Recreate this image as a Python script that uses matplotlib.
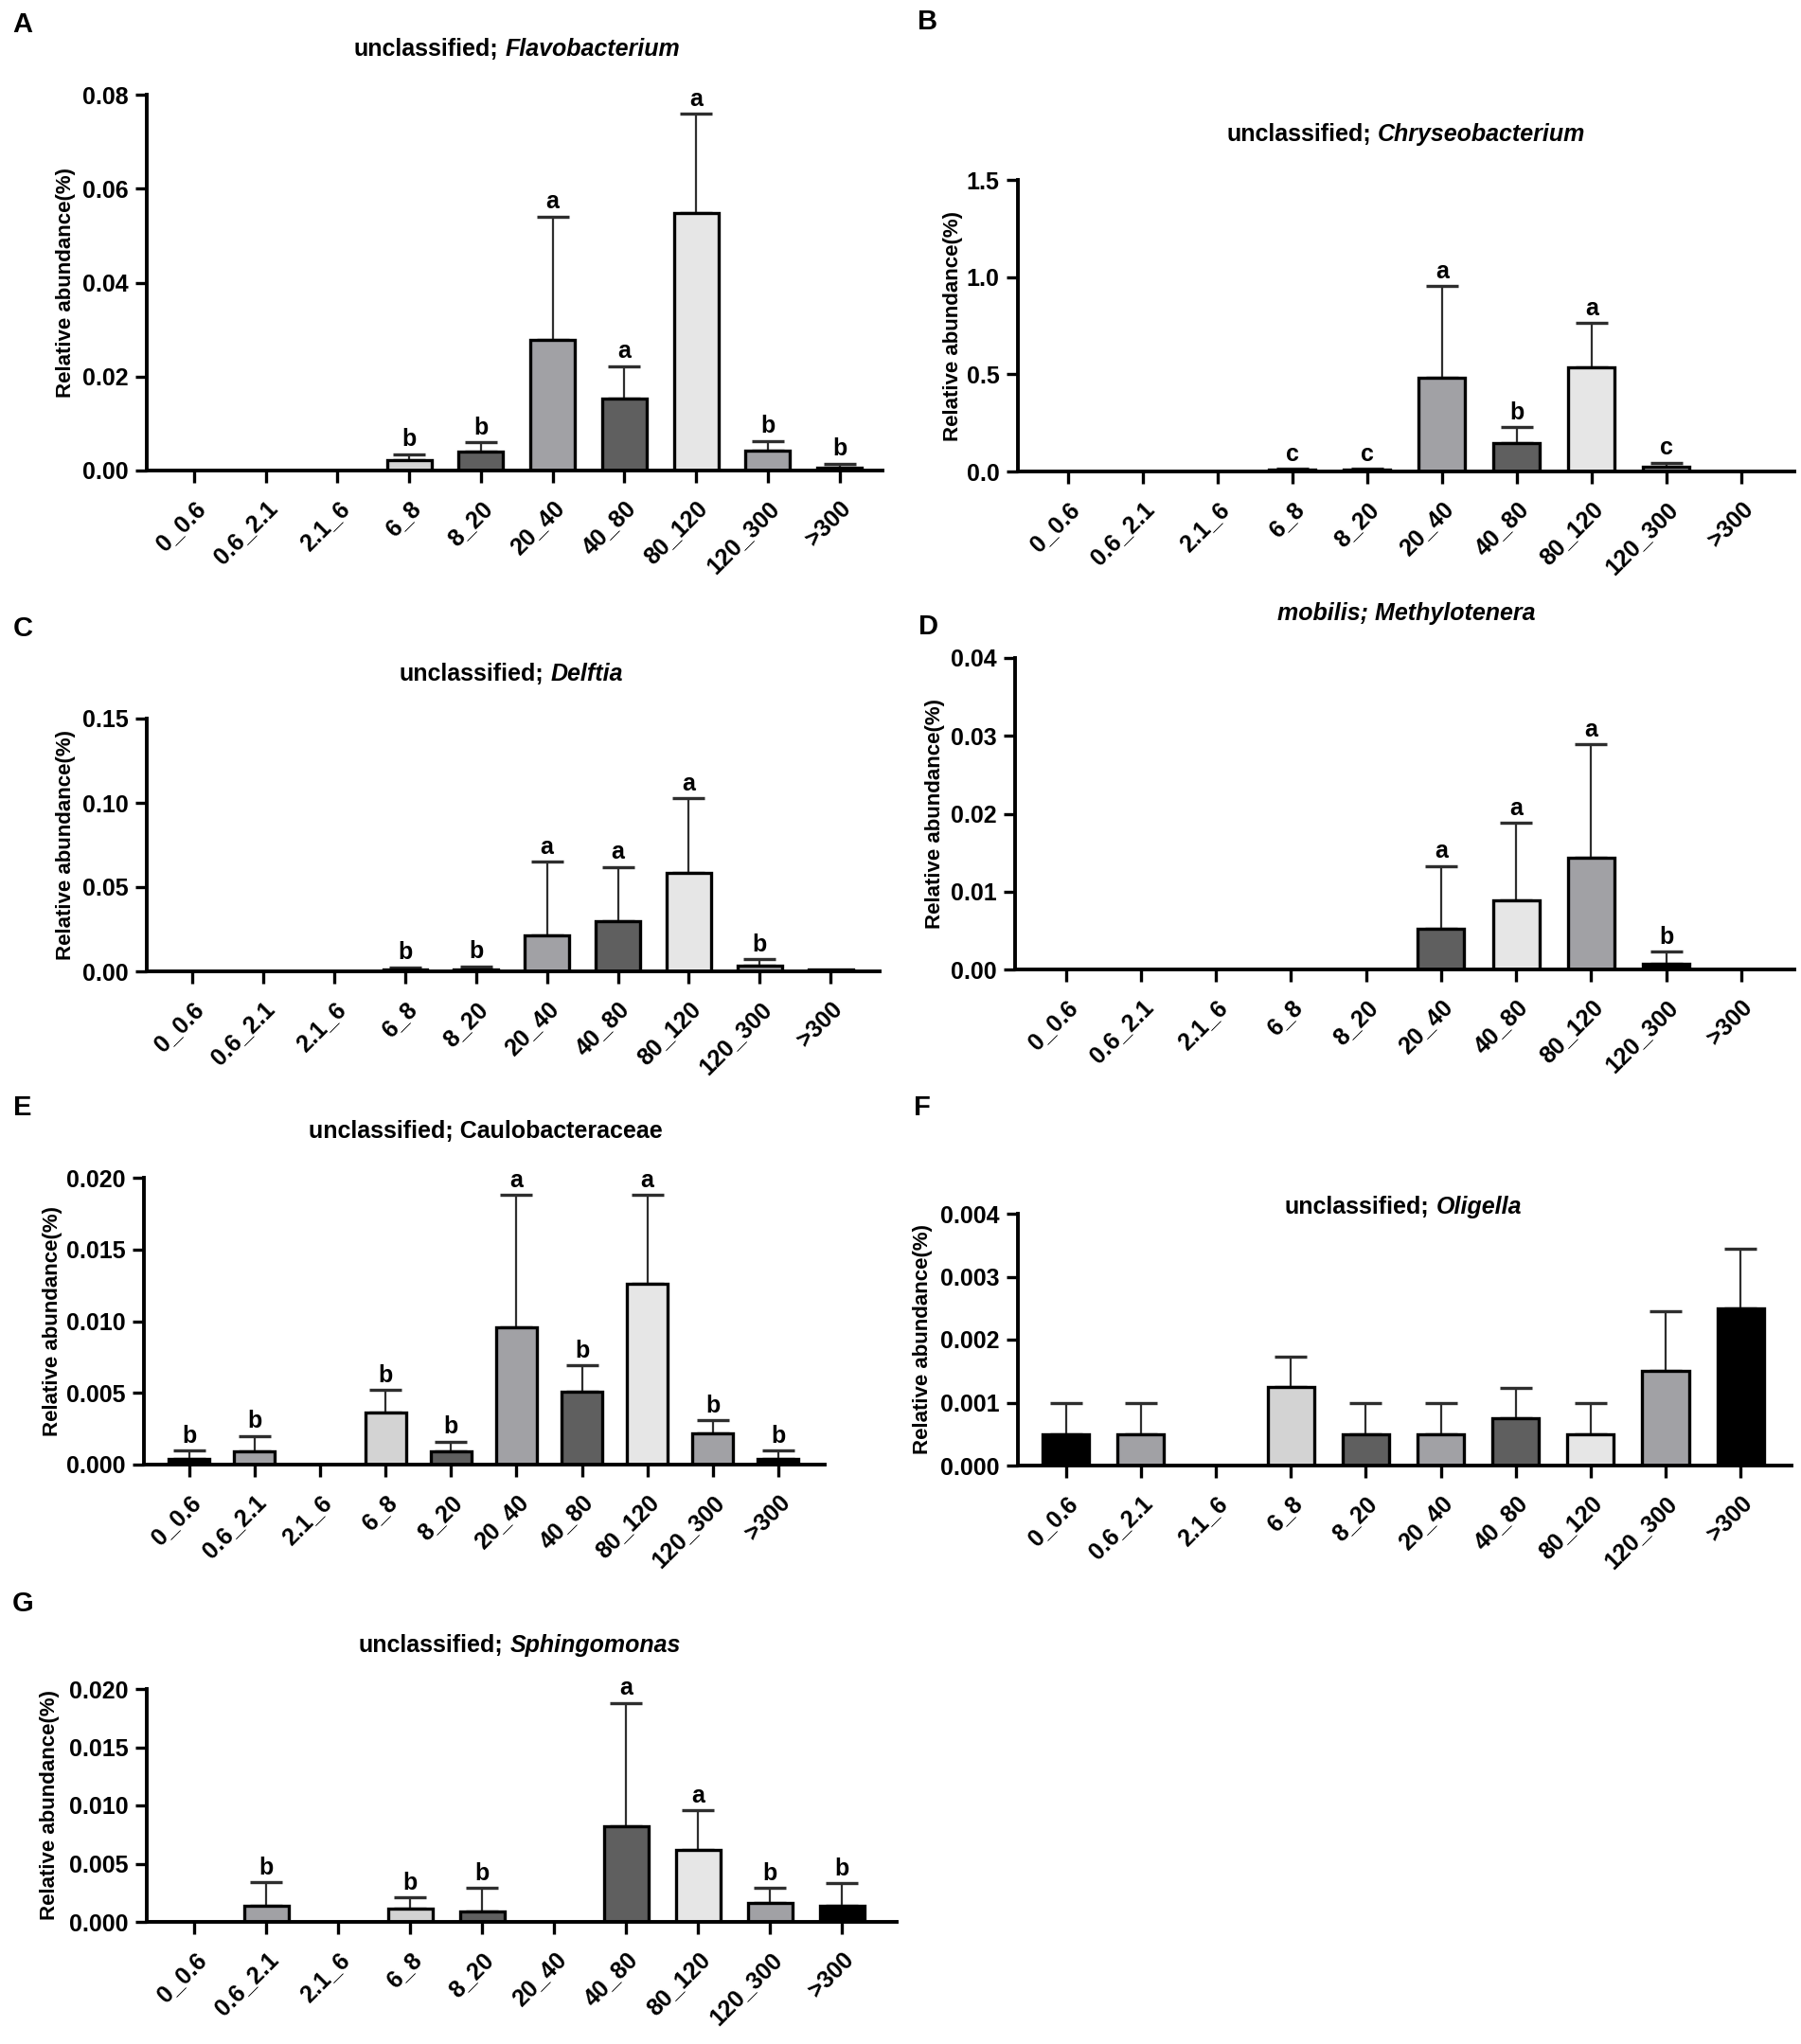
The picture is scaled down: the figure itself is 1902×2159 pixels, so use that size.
import numpy as np
import matplotlib
matplotlib.use("Agg")
import matplotlib.pyplot as plt
from matplotlib.ticker import FormatStrFormatter

plt.rcParams['font.family'] = ['Liberation Sans', 'DejaVu Sans']
plt.rcParams['font.weight'] = 'bold'

# size classes on the x axis
categories = ['0_0.6', '0.6_2.1', '2.1_6', '6_8', '8_20',
              '20_40', '40_80', '80_120', '120_300', '>300']

# mean relative abundance (%) and SD
flavo_mean = [0, 0, 0, 0.0022, 0.0040, 0.0278, 0.0153, 0.0549, 0.0043, 0.0006]
flavo_sd = [0, 0, 0, 0.0013, 0.0020, 0.0263, 0.0069, 0.0211, 0.0020, 0.0009]
flavo_sig = ['', '', '', 'b', 'b', 'a', 'a', 'a', 'b', 'b']

chryseo_mean = [0, 0, 0, 0.008, 0.008, 0.481, 0.146, 0.536, 0.025, 0]
chryseo_sd = [0, 0, 0, 0.007, 0.007, 0.474, 0.082, 0.228, 0.020, 0]
chryseo_sig = ['', '', '', 'c', 'c', 'a', 'b', 'a', 'c', '']

delftia_mean = [0, 0, 0, 0.001, 0.001, 0.0215, 0.0299, 0.0585, 0.0035, 0.001]
delftia_sd = [0, 0, 0, 0.0015, 0.002, 0.0436, 0.0321, 0.0442, 0.0037, 0]
delftia_sig = ['', '', '', 'b', 'b', 'a', 'a', 'a', 'b', '']

methylo_mean = [0, 0, 0, 0, 0, 0.0052, 0.0089, 0.0144, 0.0007, 0]
methylo_sd = [0, 0, 0, 0, 0, 0.0081, 0.0099, 0.0145, 0.0016, 0]
methylo_sig = ['', '', '', '', '', 'a', 'a', 'a', 'b', '']

caulo_mean = [0.0004, 0.00095, 0, 0.00365, 0.00095, 0.0096, 0.0051, 0.0126, 0.0022, 0.0004]
caulo_sd = [0.0006, 0.00105, 0, 0.00155, 0.00065, 0.0092, 0.0018, 0.0062, 0.0009, 0.0006]
caulo_sig = ['b', 'b', '', 'b', 'b', 'a', 'b', 'a', 'b', 'b']

oligella_mean = [0.0005, 0.0005, 0, 0.00125, 0.0005, 0.0005, 0.00075, 0.0005, 0.0015, 0.0025]
oligella_sd = [0.0005, 0.0005, 0, 0.00048, 0.0005, 0.0005, 0.00048, 0.0005, 0.00095, 0.00095]
oligella_sig = [''] * 10

sphingo_mean = [0, 0.0014, 0, 0.0011, 0.0009, 0, 0.0082, 0.0062, 0.0016, 0.0014]
sphingo_sd = [0, 0.0020, 0, 0.0010, 0.0020, 0, 0.0106, 0.0034, 0.0013, 0.0019]
sphingo_sig = ['', 'b', '', 'b', 'b', '', 'a', 'a', 'b', 'b']

# grey shades used by the bars
K, DK, MD, LT, VL = '#000000', '#5f5f5f', '#a1a1a5', '#d3d3d3', '#e6e6e6'
std_colors = [K, MD, LT, LT, DK, MD, DK, VL, MD, K]
d_colors = [K, MD, LT, LT, DK, DK, VL, MD, K, K]

W, H = 1902, 2159
fig = plt.figure(figsize=(W / 100, H / 100), dpi=100)


def px_rect(l, r, top, bot):
    return [l / W, 1 - bot / H, (r - l) / W, (bot - top) / H]


# letter, letter pos, title parts, title pos, axes box in px, xlim, ymax, ystep, fmt, ylabel x
panels = [
    ('A', (24, 26), ('unclassified;', 'Flavobacterium'), (546, 52),
     (155, 932, 100, 497), (-0.66, 9.60), 0.08, 0.02, '%.2f', 70,
     flavo_mean, flavo_sd, flavo_sig, std_colors),
    ('B', (980, 23), ('unclassified;', 'Chryseobacterium'), (1485, 142),
     (1075, 1895, 190, 498), (-0.67, 9.71), 1.5, 0.5, '%.1f', 1006,
     chryseo_mean, chryseo_sd, chryseo_sig, std_colors),
    ('C', (24, 664), ('unclassified;', 'Delftia'), (540, 712),
     (155, 929, 759, 1026), (-0.64, 9.69), 0.15, 0.05, '%.2f', 70,
     delftia_mean, delftia_sd, delftia_sig, std_colors),
    ('D', (980, 662), ('', 'mobilis; Methylotenera'), (1485, 648),
     (1072, 1895, 695, 1024), (-0.68, 9.71), 0.04, 0.01, '%.2f', 987,
     methylo_mean, methylo_sd, methylo_sig, d_colors),
    ('E', (24, 1170), ('unclassified; Caulobacteraceae', ''), (513, 1195),
     (152, 871, 1244, 1547), (-0.69, 9.71), 0.020, 0.005, '%.3f', 55,
     caulo_mean, caulo_sd, caulo_sig, std_colors),
    ('F', (974, 1170), ('unclassified;', 'Oligella'), (1482, 1275),
     (1075, 1892, 1282, 1548), (-0.64, 9.68), 0.004, 0.001, '%.3f', 974,
     oligella_mean, oligella_sd, oligella_sig, std_colors),
    ('G', (24, 1694), ('unclassified;', 'Sphingomonas'), (549, 1738),
     (155, 947, 1784, 2030), (-0.66, 9.76), 0.020, 0.005, '%.3f', 53,
     sphingo_mean, sphingo_sd, sphingo_sig, std_colors),
]

title_parts = []
x = np.arange(len(categories))
for (lab, lpos, tparts, tpos, box, xlim, ymax, ystep, fmt, ylx,
     mean, sd, sig, colors) in panels:
    ax = fig.add_axes(px_rect(*box))
    mean = np.array(mean)
    sd = np.array(sd)
    show = mean > 0
    ax.bar(x[show], mean[show], width=0.62, color=np.array(colors)[show],
           edgecolor='black', linewidth=2.4, zorder=2)
    has_err = sd > 0
    ax.errorbar(x[has_err], mean[has_err],
                yerr=[np.zeros(has_err.sum()), sd[has_err]],
                fmt='none', ecolor='#2e2e2e', elinewidth=1.6,
                capsize=12, capthick=2.4, zorder=1)
    for i, s in enumerate(sig):
        if s:
            ax.annotate(s, (x[i], mean[i] + sd[i]), xytext=(0, 6),
                        textcoords='offset points', ha='center', va='baseline',
                        fontsize=18, fontweight='bold', annotation_clip=False)
    ax.set_xlim(*xlim)
    ax.set_ylim(0, ymax)
    ax.set_yticks(np.arange(0, ymax + ystep / 2, ystep))
    ax.yaxis.set_major_formatter(FormatStrFormatter(fmt))
    ax.set_xticks(x)
    ax.set_xticklabels(categories)
    plt.setp(ax.get_xticklabels(), rotation=45, ha='right', rotation_mode='anchor')
    ax.tick_params(axis='both', width=2.4, length=9, labelsize=18, pad=5)
    ax.tick_params(axis='x', pad=11)
    for side in ['top', 'right']:
        ax.spines[side].set_visible(False)
    for side in ['left', 'bottom']:
        ax.spines[side].set_linewidth(2.8)
    ax.set_ylabel('Relative abundance(%)', fontsize=16, fontweight='bold',
                  va='center')
    ax.yaxis.set_label_coords(ylx / W, 1 - (box[2] + box[3]) / 2 / H,
                              transform=fig.transFigure)
    fig.text(lpos[0] / W, 1 - lpos[1] / H, lab, ha='center', va='center',
             fontsize=21, fontweight='bold')
    t1 = fig.text(0, 1 - tpos[1] / H, tparts[0], ha='left', va='center',
                  fontsize=18, fontweight='bold')
    t2 = fig.text(0, 1 - tpos[1] / H, tparts[1], ha='left', va='center',
                  fontsize=18, fontweight='bold', style='italic')
    title_parts.append((t1, t2, tpos[0]))

# center two-part titles (regular + italic genus)
fig.canvas.draw()
r = fig.canvas.get_renderer()
for t1, t2, cx in title_parts:
    w1 = t1.get_window_extent(r).width if t1.get_text() else 0
    w2 = t2.get_window_extent(r).width if t2.get_text() else 0
    gap = 7 if (w1 and w2) else 0
    start = cx - (w1 + gap + w2) / 2
    t1.set_x(start / W)
    t2.set_x((start + w1 + gap) / W)

fig.savefig('out.png', dpi=100)
